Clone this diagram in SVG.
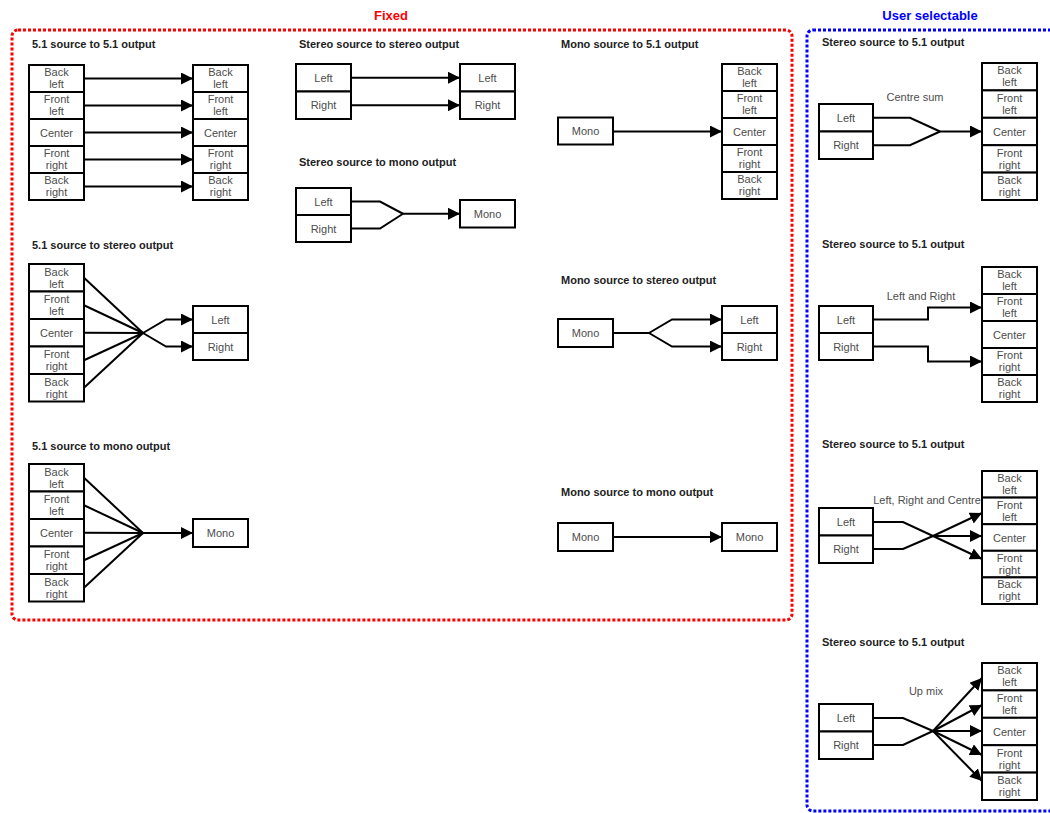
<svg xmlns="http://www.w3.org/2000/svg" width="1050" height="813" viewBox="0 0 1050 813">
<defs>
<style>
.box{fill:#fff;stroke:#000;stroke-width:2}
.lbl{font-family:"Liberation Sans",Arial,sans-serif;font-size:11px;fill:#4d4d4d;text-anchor:middle}
.ttl{font-family:"Liberation Sans",Arial,sans-serif;font-size:11px;font-weight:bold;fill:#222}
.edge{fill:none;stroke:#000;stroke-width:2}
.arr{marker-end:url(#ah)}
.elbl{font-family:"Liberation Sans",Arial,sans-serif;font-size:11px;fill:#4d4d4d;text-anchor:middle}
</style>
<marker id="ah" markerUnits="userSpaceOnUse" markerWidth="12" markerHeight="12" refX="12" refY="6" orient="auto" viewBox="0 0 12 12">
<path d="M0,0 L12,6 L0,12 Z" fill="#000"/>
</marker>
</defs>
<rect width="1050" height="813" fill="#fff"/>

<g id="group-fixed">
<rect x="12" y="30" width="780" height="590" rx="6" fill="none" stroke="#ff0000" stroke-width="3" stroke-dasharray="3 2"/>
<text x="391" y="20" font-family="Liberation Sans,Arial,sans-serif" font-size="13" font-weight="bold" fill="#ff0000" text-anchor="middle">Fixed</text>
</g>
<g id="group-user">
<rect x="807" y="30" width="260" height="781" rx="6" fill="none" stroke="#0000ff" stroke-width="3" stroke-dasharray="3 2"/>
<text x="930" y="20" font-family="Liberation Sans,Arial,sans-serif" font-size="13" font-weight="bold" fill="#0000ff" text-anchor="middle">User selectable</text>
</g>

<g id="titles">
<text class="ttl" x="32" y="48">5.1 source to 5.1 output</text>
<text class="ttl" x="32" y="249">5.1 source to stereo output</text>
<text class="ttl" x="32" y="450">5.1 source to mono output</text>
<text class="ttl" x="299" y="48">Stereo source to stereo output</text>
<text class="ttl" x="299" y="166">Stereo source to mono output</text>
<text class="ttl" x="561" y="48">Mono source to 5.1 output</text>
<text class="ttl" x="561" y="284">Mono source to stereo output</text>
<text class="ttl" x="561" y="496">Mono source to mono output</text>
<text class="ttl" x="822" y="46">Stereo source to 5.1 output</text>
<text class="ttl" x="822" y="248">Stereo source to 5.1 output</text>
<text class="ttl" x="822" y="448">Stereo source to 5.1 output</text>
<text class="ttl" x="822" y="646">Stereo source to 5.1 output</text>
</g>

<g id="s1-src">
<rect class="box" x="29" y="65" width="55" height="27"/>
<rect class="box" x="29" y="92" width="55" height="27"/>
<rect class="box" x="29" y="119" width="55" height="27"/>
<rect class="box" x="29" y="146" width="55" height="27"/>
<rect class="box" x="29" y="173" width="55" height="27"/>
<text class="lbl" x="56.5" y="76">Back</text><text class="lbl" x="56.5" y="88">left</text>
<text class="lbl" x="56.5" y="103">Front</text><text class="lbl" x="56.5" y="115">left</text>
<text class="lbl" x="56.5" y="136.5">Center</text>
<text class="lbl" x="56.5" y="157">Front</text><text class="lbl" x="56.5" y="169">right</text>
<text class="lbl" x="56.5" y="184">Back</text><text class="lbl" x="56.5" y="196">right</text>
</g>
<g id="s1-dst">
<rect class="box" x="193" y="65" width="55" height="27"/>
<rect class="box" x="193" y="92" width="55" height="27"/>
<rect class="box" x="193" y="119" width="55" height="27"/>
<rect class="box" x="193" y="146" width="55" height="27"/>
<rect class="box" x="193" y="173" width="55" height="27"/>
<text class="lbl" x="220.5" y="76">Back</text><text class="lbl" x="220.5" y="88">left</text>
<text class="lbl" x="220.5" y="103">Front</text><text class="lbl" x="220.5" y="115">left</text>
<text class="lbl" x="220.5" y="136.5">Center</text>
<text class="lbl" x="220.5" y="157">Front</text><text class="lbl" x="220.5" y="169">right</text>
<text class="lbl" x="220.5" y="184">Back</text><text class="lbl" x="220.5" y="196">right</text>
</g>

<g id="s2-src">
<rect class="box" x="29" y="264" width="55" height="27.5"/>
<rect class="box" x="29" y="291.5" width="55" height="27.5"/>
<rect class="box" x="29" y="319" width="55" height="27.5"/>
<rect class="box" x="29" y="346.5" width="55" height="27.5"/>
<rect class="box" x="29" y="374" width="55" height="27.5"/>
<text class="lbl" x="56.5" y="275.5">Back</text><text class="lbl" x="56.5" y="287.5">left</text>
<text class="lbl" x="56.5" y="303">Front</text><text class="lbl" x="56.5" y="315">left</text>
<text class="lbl" x="56.5" y="336.5">Center</text>
<text class="lbl" x="56.5" y="358">Front</text><text class="lbl" x="56.5" y="370">right</text>
<text class="lbl" x="56.5" y="385.5">Back</text><text class="lbl" x="56.5" y="397.5">right</text>
</g>
<g id="s2-dst">
<rect class="box" x="193" y="306" width="55" height="27"/>
<rect class="box" x="193" y="333" width="55" height="27"/>
<text class="lbl" x="220.5" y="323.5">Left</text>
<text class="lbl" x="220.5" y="350.5">Right</text>
</g>

<g id="s3-src">
<rect class="box" x="29" y="464" width="55" height="27.5"/>
<rect class="box" x="29" y="491.5" width="55" height="27.5"/>
<rect class="box" x="29" y="519" width="55" height="27.5"/>
<rect class="box" x="29" y="546.5" width="55" height="27.5"/>
<rect class="box" x="29" y="574" width="55" height="27.5"/>
<text class="lbl" x="56.5" y="475.5">Back</text><text class="lbl" x="56.5" y="487.5">left</text>
<text class="lbl" x="56.5" y="503">Front</text><text class="lbl" x="56.5" y="515">left</text>
<text class="lbl" x="56.5" y="536.5">Center</text>
<text class="lbl" x="56.5" y="558">Front</text><text class="lbl" x="56.5" y="570">right</text>
<text class="lbl" x="56.5" y="585.5">Back</text><text class="lbl" x="56.5" y="597.5">right</text>
</g>
<g id="s3-dst">
<rect class="box" x="193" y="519" width="55" height="28"/>
<text class="lbl" x="220.5" y="537">Mono</text>
</g>

<g id="s4-src">
<rect class="box" x="296" y="64" width="55" height="27.5"/>
<rect class="box" x="296" y="91.5" width="55" height="27.5"/>
<text class="lbl" x="323.5" y="81.5">Left</text>
<text class="lbl" x="323.5" y="109">Right</text>
</g>
<g id="s4-dst">
<rect class="box" x="460" y="64" width="55" height="27.5"/>
<rect class="box" x="460" y="91.5" width="55" height="27.5"/>
<text class="lbl" x="487.5" y="81.5">Left</text>
<text class="lbl" x="487.5" y="109">Right</text>
</g>

<g id="s5-src">
<rect class="box" x="296" y="188" width="55" height="27"/>
<rect class="box" x="296" y="215" width="55" height="27"/>
<text class="lbl" x="323.5" y="205.5">Left</text>
<text class="lbl" x="323.5" y="232.5">Right</text>
</g>
<g id="s5-dst">
<rect class="box" x="460" y="200" width="55" height="27.5"/>
<text class="lbl" x="487.5" y="217.5">Mono</text>
</g>

<g id="s6-src">
<rect class="box" x="558" y="117.5" width="55" height="27"/>
<text class="lbl" x="585.5" y="135">Mono</text>
</g>
<g id="s6-dst">
<rect class="box" x="722" y="64" width="55" height="27"/>
<rect class="box" x="722" y="91" width="55" height="27"/>
<rect class="box" x="722" y="118" width="55" height="27"/>
<rect class="box" x="722" y="145" width="55" height="27"/>
<rect class="box" x="722" y="172" width="55" height="27"/>
<text class="lbl" x="749.5" y="75">Back</text><text class="lbl" x="749.5" y="87">left</text>
<text class="lbl" x="749.5" y="102">Front</text><text class="lbl" x="749.5" y="114">left</text>
<text class="lbl" x="749.5" y="135.5">Center</text>
<text class="lbl" x="749.5" y="156">Front</text><text class="lbl" x="749.5" y="168">right</text>
<text class="lbl" x="749.5" y="183">Back</text><text class="lbl" x="749.5" y="195">right</text>
</g>

<g id="s7-src">
<rect class="box" x="558" y="319" width="55" height="28"/>
<text class="lbl" x="585.5" y="337">Mono</text>
</g>
<g id="s7-dst">
<rect class="box" x="722" y="306" width="55" height="27"/>
<rect class="box" x="722" y="333" width="55" height="27"/>
<text class="lbl" x="749.5" y="323.5">Left</text>
<text class="lbl" x="749.5" y="350.5">Right</text>
</g>

<g id="s8-src">
<rect class="box" x="558" y="523" width="55" height="28"/>
<text class="lbl" x="585.5" y="541">Mono</text>
</g>
<g id="s8-dst">
<rect class="box" x="722" y="523" width="55" height="28"/>
<text class="lbl" x="749.5" y="541">Mono</text>
</g>

<g id="r1-src">
<rect class="box" x="819" y="104" width="54" height="27.5"/>
<rect class="box" x="819" y="131.5" width="54" height="27.5"/>
<text class="lbl" x="846" y="121.5">Left</text>
<text class="lbl" x="846" y="149">Right</text>
</g>
<g id="r1-dst">
<rect class="box" x="982" y="63" width="55" height="27.4"/>
<rect class="box" x="982" y="90.4" width="55" height="27.4"/>
<rect class="box" x="982" y="117.8" width="55" height="27.4"/>
<rect class="box" x="982" y="145.2" width="55" height="27.4"/>
<rect class="box" x="982" y="172.6" width="55" height="27.4"/>
<text class="lbl" x="1009.5" y="74">Back</text><text class="lbl" x="1009.5" y="86">left</text>
<text class="lbl" x="1009.5" y="101.5">Front</text><text class="lbl" x="1009.5" y="113.5">left</text>
<text class="lbl" x="1009.5" y="135.5">Center</text>
<text class="lbl" x="1009.5" y="156.5">Front</text><text class="lbl" x="1009.5" y="168.5">right</text>
<text class="lbl" x="1009.5" y="184">Back</text><text class="lbl" x="1009.5" y="196">right</text>
</g>

<g id="r2-src">
<rect class="box" x="819" y="306" width="54" height="27"/>
<rect class="box" x="819" y="333" width="54" height="27"/>
<text class="lbl" x="846" y="323.5">Left</text>
<text class="lbl" x="846" y="350.5">Right</text>
</g>
<g id="r2-dst">
<rect class="box" x="982" y="267" width="55" height="27"/>
<rect class="box" x="982" y="294" width="55" height="27"/>
<rect class="box" x="982" y="321" width="55" height="27"/>
<rect class="box" x="982" y="348" width="55" height="27"/>
<rect class="box" x="982" y="375" width="55" height="27"/>
<text class="lbl" x="1009.5" y="278">Back</text><text class="lbl" x="1009.5" y="290">left</text>
<text class="lbl" x="1009.5" y="305">Front</text><text class="lbl" x="1009.5" y="317">left</text>
<text class="lbl" x="1009.5" y="338.5">Center</text>
<text class="lbl" x="1009.5" y="359">Front</text><text class="lbl" x="1009.5" y="371">right</text>
<text class="lbl" x="1009.5" y="386">Back</text><text class="lbl" x="1009.5" y="398">right</text>
</g>

<g id="r3-src">
<rect class="box" x="819" y="508" width="54" height="27.5"/>
<rect class="box" x="819" y="535.5" width="54" height="27.5"/>
<text class="lbl" x="846" y="525.5">Left</text>
<text class="lbl" x="846" y="553">Right</text>
</g>
<g id="r3-dst">
<rect class="box" x="982" y="471" width="55" height="26.6"/>
<rect class="box" x="982" y="497.6" width="55" height="26.6"/>
<rect class="box" x="982" y="524.2" width="55" height="26.6"/>
<rect class="box" x="982" y="550.8" width="55" height="26.6"/>
<rect class="box" x="982" y="577.4" width="55" height="26.6"/>
<text class="lbl" x="1009.5" y="482">Back</text><text class="lbl" x="1009.5" y="494">left</text>
<text class="lbl" x="1009.5" y="508.5">Front</text><text class="lbl" x="1009.5" y="520.5">left</text>
<text class="lbl" x="1009.5" y="541.5">Center</text>
<text class="lbl" x="1009.5" y="561.5">Front</text><text class="lbl" x="1009.5" y="573.5">right</text>
<text class="lbl" x="1009.5" y="588">Back</text><text class="lbl" x="1009.5" y="600">right</text>
</g>

<g id="r4-src">
<rect class="box" x="819" y="704" width="54" height="27.5"/>
<rect class="box" x="819" y="731.5" width="54" height="27.5"/>
<text class="lbl" x="846" y="721.5">Left</text>
<text class="lbl" x="846" y="749">Right</text>
</g>
<g id="r4-dst">
<rect class="box" x="982" y="663" width="55" height="27.4"/>
<rect class="box" x="982" y="690.4" width="55" height="27.4"/>
<rect class="box" x="982" y="717.8" width="55" height="27.4"/>
<rect class="box" x="982" y="745.2" width="55" height="27.4"/>
<rect class="box" x="982" y="772.6" width="55" height="27.4"/>
<text class="lbl" x="1009.5" y="674">Back</text><text class="lbl" x="1009.5" y="686">left</text>
<text class="lbl" x="1009.5" y="701.5">Front</text><text class="lbl" x="1009.5" y="713.5">left</text>
<text class="lbl" x="1009.5" y="735.5">Center</text>
<text class="lbl" x="1009.5" y="756.5">Front</text><text class="lbl" x="1009.5" y="768.5">right</text>
<text class="lbl" x="1009.5" y="784">Back</text><text class="lbl" x="1009.5" y="796">right</text>
</g>

<g id="connectors">
<path class="edge arr" d="M84,78.5 H193"/>
<path class="edge arr" d="M84,105.5 H193"/>
<path class="edge arr" d="M84,132.5 H193"/>
<path class="edge arr" d="M84,159.5 H193"/>
<path class="edge arr" d="M84,186.5 H193"/>
<path class="edge" d="M84,277.75 L143,333"/>
<path class="edge" d="M84,305.25 L143,333"/>
<path class="edge" d="M84,332.75 L143,333"/>
<path class="edge" d="M84,360.25 L143,333"/>
<path class="edge" d="M84,387.75 L143,333"/>
<path class="edge arr" d="M143,333 L166,319.5 H193"/>
<path class="edge arr" d="M143,333 L166,346.5 H193"/>
<path class="edge" d="M84,477.75 L143,533"/>
<path class="edge" d="M84,505.25 L143,533"/>
<path class="edge" d="M84,532.75 L143,533"/>
<path class="edge" d="M84,560.25 L143,533"/>
<path class="edge" d="M84,587.75 L143,533"/>
<path class="edge arr" d="M143,533 H193"/>
<path class="edge arr" d="M351,77.75 H460"/>
<path class="edge arr" d="M351,105.25 H460"/>
<path class="edge" d="M351,201.5 H380 L403,213.75"/>
<path class="edge" d="M351,228.5 H380 L403,213.75"/>
<path class="edge arr" d="M403,213.75 H460"/>
<path class="edge arr" d="M613,131.5 H722"/>
<path class="edge" d="M613,333 H649"/>
<path class="edge arr" d="M649,333 L672,319.5 H722"/>
<path class="edge arr" d="M649,333 L672,346.5 H722"/>
<path class="edge arr" d="M613,537 H722"/>
<path class="edge" d="M873,117.75 H910 L940,131.5"/>
<path class="edge" d="M873,145.25 H910 L940,131.5"/>
<path class="edge arr" d="M940,131.5 H982"/>
<path class="edge arr" d="M873,319.5 H928 V307.5 H982"/>
<path class="edge arr" d="M873,346.5 H928 V361.5 H982"/>
<path class="edge arr" d="M873,522 H903 L933,536 L982,559"/>
<path class="edge arr" d="M873,549 H903 L933,536 L982,513"/>
<path class="edge arr" d="M933,536 H982"/>
<path class="edge" d="M873,718 H903 L933,731"/>
<path class="edge" d="M873,745 H903 L933,731"/>
<path class="edge arr" d="M933,731 L982,678"/>
<path class="edge arr" d="M933,731 L982,705"/>
<path class="edge arr" d="M933,731 H982"/>
<path class="edge arr" d="M933,731 L982,755"/>
<path class="edge arr" d="M933,731 L982,781"/>
<text class="elbl" x="915" y="101">Centre sum</text>
<text class="elbl" x="921" y="300">Left and Right</text>
<text class="elbl" x="927" y="504">Left, Right and Centre</text>
<text class="elbl" x="926" y="695">Up mix</text>
</g>
</svg>
